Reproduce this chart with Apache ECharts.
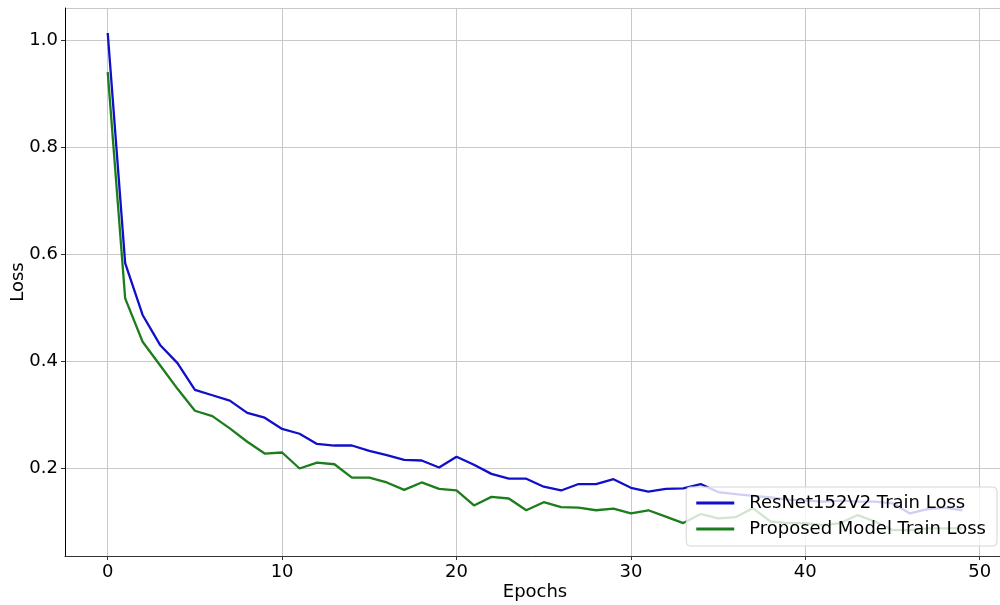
<!DOCTYPE html>
<html>
<head>
<meta charset="utf-8">
<script src="https://cdn.jsdelivr.net/npm/echarts@6/dist/echarts.min.js"></script>
<style>
html,body{margin:0;padding:0;background:#fff;}
#chart{width:1000px;height:605px;}
</style>
</head>
<body>
<div id="chart"></div>
<script>
const epochs = [0,1,2,3,4,5,6,7,8,9,10,11,12,13,14,15,16,17,18,19,20,21,22,23,24,25,26,27,28,29,30,31,32,33,34,35,36,37,38,39,40,41,42,43,44,45,46,47,48,49];
const resnetLoss = [1.013,0.583,0.486,0.430,0.396,0.346,0.336,0.326,0.303,0.294,
  0.273,0.264,0.245,0.242,0.242,0.232,0.224,0.215,0.214,0.201,
  0.221,0.206,0.189,0.180,0.180,0.165,0.158,0.170,0.170,0.179,
  0.163,0.156,0.161,0.162,0.170,0.155,0.151,0.148,0.145,0.141,
  0.139,0.137,0.139,0.137,0.137,0.134,0.115,0.123,0.126,0.121];
const proposedLoss = [0.940,0.517,0.436,0.392,0.348,0.307,0.297,0.274,0.249,0.227,
  0.229,0.199,0.210,0.207,0.182,0.182,0.173,0.159,0.173,0.161,
  0.158,0.130,0.146,0.143,0.121,0.136,0.127,0.126,0.121,0.124,
  0.115,0.121,0.109,0.097,0.114,0.106,0.108,0.125,0.100,0.097,
  0.097,0.093,0.097,0.112,0.100,0.084,0.084,0.087,0.087,0.087];
const seriesNames = ['ResNet152V2 Train Loss', 'Proposed Model Train Loss'];
const xAxisName = 'Epochs';
const yAxisName = 'Loss';

const FONT = 'DejaVu Sans';
const chart = echarts.init(document.getElementById('chart'), null, {renderer: 'canvas'});
const pairs = arr => epochs.map((e, i) => [e, arr[i]]);

chart.setOption({
  animation: false,
  backgroundColor: '#fff',
  textStyle: {fontFamily: FONT},
  grid: {left: 65, top: 8, width: 940, height: 548, containLabel: false, outerBoundsMode: 'none'},
  xAxis: {
    type: 'value',
    min: -2.45, max: 51.45,
    minInterval: 10, maxInterval: 10,
    name: xAxisName, nameLocation: 'middle', nameGap: 27, nameMoveOverlap: false,
    nameTextStyle: {fontSize: 18, color: '#000', fontFamily: FONT},
    axisLine: {show: true, onZero: false, lineStyle: {color: '#333', width: 1}},
    axisTick: {show: true, length: 4, inside: false, lineStyle: {color: '#333'}},
    axisLabel: {fontSize: 18, color: '#000', margin: 7, fontFamily: FONT,
      showMinLabel: false, showMaxLabel: false,
      formatter: v => (Math.abs(v - Math.round(v)) < 1e-6 && v >= 0) ? String(Math.round(v)) : ''},
    splitLine: {show: true, lineStyle: {color: '#c8c8c8', width: 1}}
  },
  yAxis: {
    type: 'value',
    min: 0.0355, max: 1.0598,
    minInterval: 0.2, maxInterval: 0.2,
    name: yAxisName, nameLocation: 'middle', nameGap: 38, nameRotate: 90, nameMoveOverlap: false,
    nameTextStyle: {fontSize: 18, color: '#000', fontFamily: FONT},
    axisLine: {show: true, onZero: false, lineStyle: {color: '#000', width: 1}},
    axisTick: {show: true, length: 4, inside: false, lineStyle: {color: '#333'}},
    axisLabel: {fontSize: 18, color: '#000', margin: 7, fontFamily: FONT,
      showMinLabel: false, showMaxLabel: false,
      formatter: v => {
        const r = Math.round(v * 10) / 10;
        return Math.abs(v - r) < 1e-6 ? r.toFixed(1) : '';
      }},
    splitLine: {show: true, lineStyle: {color: '#c8c8c8', width: 1}}
  },
  legend: {
    orient: 'vertical',
    right: 3, top: 487,
    padding: [6, 11, 7, 10],
    itemGap: 6,
    itemWidth: 38, itemHeight: 3,
    icon: 'rect',
    backgroundColor: 'rgba(255,255,255,0.8)',
    borderColor: '#d4d4d4', borderWidth: 1, borderRadius: 4,
    textStyle: {fontSize: 18, color: '#000', fontFamily: FONT, lineHeight: 20, padding: [0, 0, 0, 10]},
    data: seriesNames
  },
  series: [
    {
      name: seriesNames[0], type: 'line', data: pairs(resnetLoss),
      showSymbol: false, symbol: 'none', smooth: false,
      color: '#1010c8',
      lineStyle: {color: '#1010c8', width: 2.3}
    },
    {
      name: seriesNames[1], type: 'line', data: pairs(proposedLoss),
      showSymbol: false, symbol: 'none', smooth: false,
      color: '#1c7d1c',
      lineStyle: {color: '#1c7d1c', width: 2.3}
    }
  ]
});
</script>
</body>
</html>
